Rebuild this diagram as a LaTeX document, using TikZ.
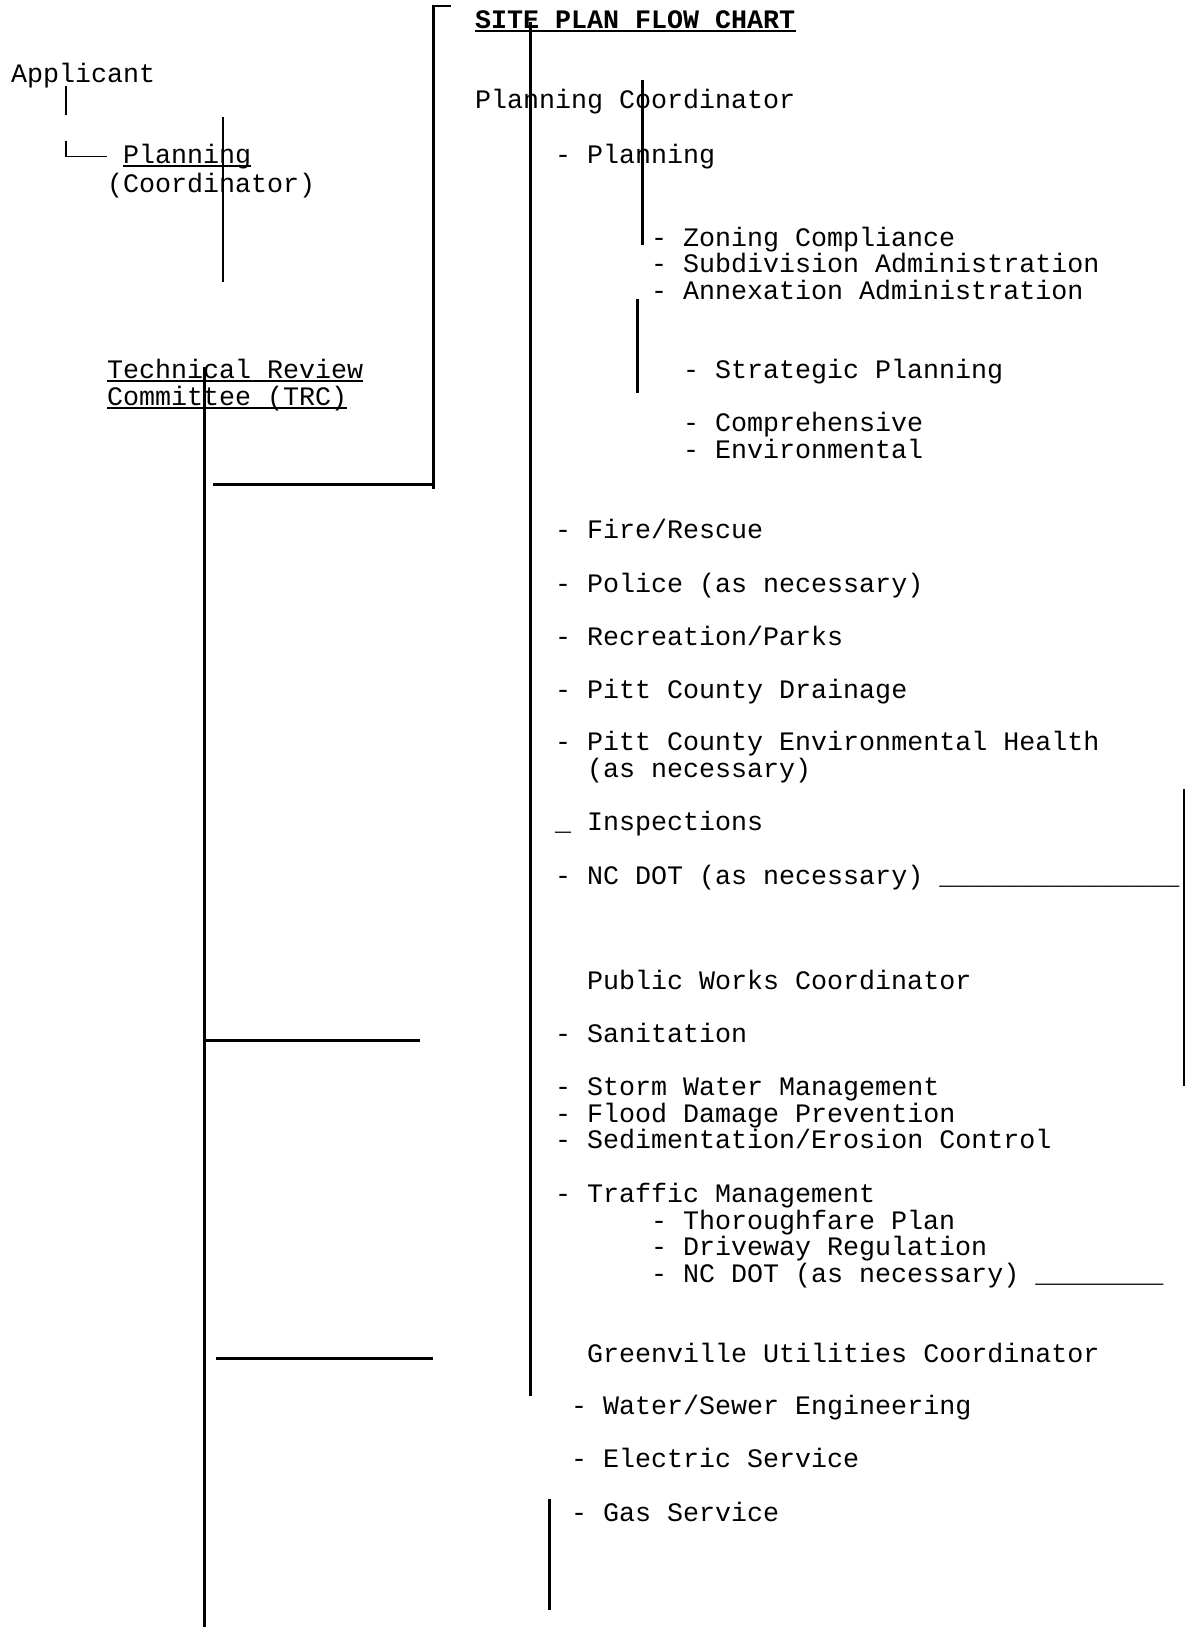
\documentclass[tikz,border=0pt]{standalone}
\usepackage{fontspec}
\setmonofont{Liberation Mono}
\usepackage{tikz}
\usetikzlibrary{calc}

\tikzset{
  txt/.style={font=\ttfamily\fontsize{26.67}{26.6}\selectfont,inner sep=0pt,anchor=base west},
  titletxt/.style={txt,font=\ttfamily\bfseries\fontsize{26.67}{26.6}\selectfont},
  rule/.style={line width=2.8pt},
  boxline/.style={line width=1.5pt},
  uline/.style={line width=1.8pt}
}

\begin{document}
\begin{tikzpicture}[x=1pt,y=-1pt]
\useasboundingbox (0,0) rectangle (1190,1627);

% left column
\node[txt] (app) at (11,82.5) {Applicant};
\node[txt] (planL) at (123,163.5) {Planning};
\node[txt] (coordL) at (107,192.5) {(Coordinator)};
\node[txt] (tech) at (107,378.3) {Technical Review};
\node[txt] (comm) at (107,405) {Committee (TRC)};

% right column
\node[titletxt] (title) at (475,28.5) {SITE PLAN FLOW CHART};
\node[txt] (plancoord) at (475,108.5) {Planning Coordinator};
\node[txt] (planR) at (555,163.5) {- Planning};
\node[txt] (zon) at (651,246.5) {- Zoning Compliance};
\node[txt] (sub) at (651,272.5) {- Subdivision Administration};
\node[txt] (anx) at (651,299.5) {- Annexation Administration};
\node[txt] (strat) at (683,378.3) {- Strategic Planning};
\node[txt] (comp) at (683,431.3) {- Comprehensive};
\node[txt] (envi) at (683,458.3) {- Environmental};
\node[txt] (fire) at (555,538.2) {- Fire/Rescue};
\node[txt] (police) at (555,592) {- Police (as necessary)};
\node[txt] (parks) at (555,645) {- Recreation/Parks};
\node[txt] (drain) at (555,698) {- Pitt County Drainage};
\node[txt] (health) at (555,750.8) {- Pitt County Environmental Health};
\node[txt] (asnec) at (587,777.8) {(as necessary)};
\node[txt] (insp) at (555,830.7) {\_ Inspections};
\node[txt] (ncdot) at (555,884.7) {- NC DOT (as necessary) \_\_\_\_\_\_\_\_\_\_\_\_\_\_\_};
\node[txt] (pwc) at (587,989.5) {Public Works Coordinator};
\node[txt] (sanit) at (555,1042.4) {- Sanitation};
\node[txt] (storm) at (555,1095.3) {- Storm Water Management};
\node[txt] (flood) at (555,1122.3) {- Flood Damage Prevention};
\node[txt] (sedim) at (555,1148.2) {- Sedimentation/Erosion Control};
\node[txt] (traffic) at (555,1202.2) {- Traffic Management};
\node[txt] (thor) at (651,1229.2) {- Thoroughfare Plan};
\node[txt] (drive) at (651,1255.1) {- Driveway Regulation};
\node[txt] (ncdotb) at (651,1282) {- NC DOT (as necessary) \_\_\_\_\_\_\_\_};
\node[txt] (guc) at (587,1362) {Greenville Utilities Coordinator};
\node[txt] (water) at (571,1414.8) {- Water/Sewer Engineering};
\node[txt] (elec) at (571,1467.7) {- Electric Service};
\node[txt] (gas) at (571,1521) {- Gas Service};

\foreach \n in {title,planL,tech,comm}
  \draw[uline] ([yshift=-2.6pt]\n.base west) -- ([yshift=-2.6pt]\n.base east);

% box drawing under Applicant
\draw[boxline] (66,86) -- (66,115);
\draw[boxline] (66,141) -- (66,156.7) -- (107,156.7);

% heavy rules
\coordinate[] (B1) at (451,6);
\coordinate[] (B2) at (433.5,6);
\coordinate[] (B3) at (433.5,489.3);
\draw[rule] (B1) -- (B2) -- (B3);
\draw[rule] (213.3,484.3) -- (432,484.3);
\draw[rule] (530.3,21.7) -- (530.3,1395.7);
\draw[rule] (642.7,80) -- (642.7,245);
\draw[rule] (637.5,298.5) -- (637.5,393.3);
\draw[rule] (223,117) -- (223,281.7);
\draw[rule] (204.5,366.7) -- (204.5,1627);
\draw[rule] (204.5,1040.7) -- (420,1040.7);
\draw[rule] (216,1358.7) -- (433,1358.7);
\draw[rule] (1184,789.3) -- (1184,1086);
\draw[rule] (549.3,1499) -- (549.3,1610);
\end{tikzpicture}
\end{document}
